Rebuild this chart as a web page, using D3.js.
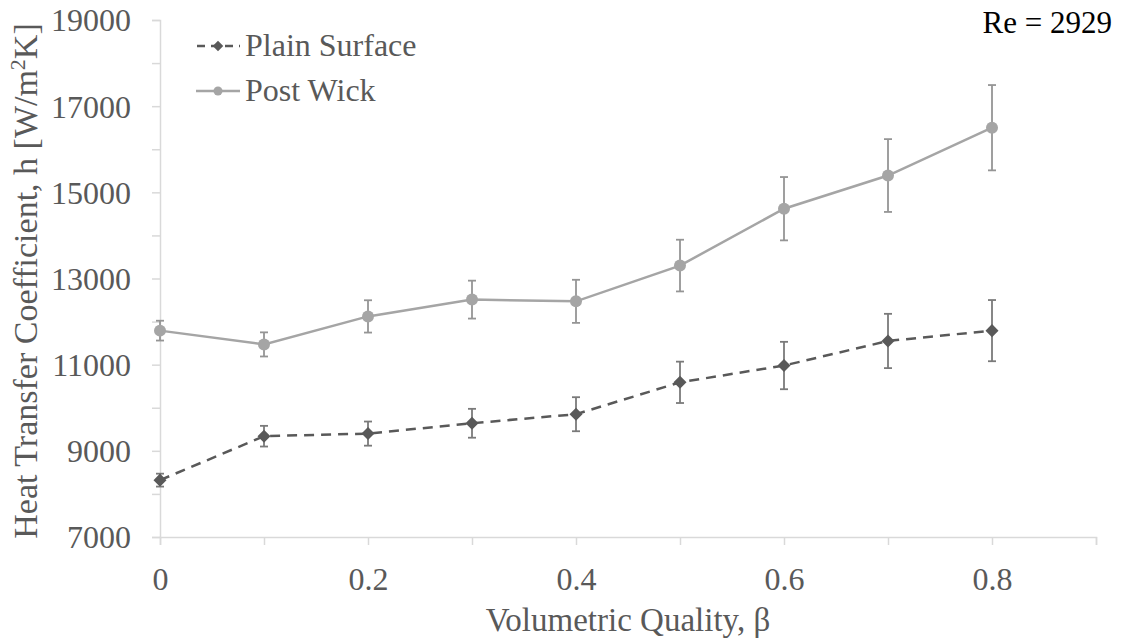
<!DOCTYPE html>
<html>
<head>
<meta charset="utf-8">
<script src="https://cdn.jsdelivr.net/npm/d3@7"></script>
<style>
  body { margin: 0; background: #fff; }
  svg { display: block; }
  svg text { font-family: "Liberation Serif", "Times New Roman", Times, serif !important; }
</style>
</head>
<body>
<svg id="chart" width="1125" height="641"></svg>
<script>
// ---- data ----
const beta = [0, 0.1, 0.2, 0.3, 0.4, 0.5, 0.6, 0.7, 0.8];
const plainSurface = [8320, 9340, 9400, 9640, 9850, 10590, 10980, 11550, 11790];
const plainErr = [150, 240, 280, 335, 395, 480, 550, 630, 710];
const postWick = [11790, 11470, 12120, 12510, 12470, 13300, 14620, 15390, 16500];
const postErr = [230, 280, 375, 440, 500, 600, 735, 845, 990];
const yTickLabels = [7000, 9000, 11000, 13000, 15000, 17000, 19000];
const xTickLabels = [0, 0.2, 0.4, 0.6, 0.8];
const seriesNames = ["Plain Surface", "Post Wick"];

// ---- layout ----
const FONT = "'Liberation Serif', 'Times New Roman', serif";
const svg = d3.select("#chart").attr("font-family", FONT);
const x = d3.scaleLinear().domain([0, 0.9]).range([160, 1096]);
const y = d3.scaleLinear().domain([7000, 19000]).range([537, 20]);
const textColor = "#595959";
const axisColor = "#d9d9d9";

// axes
const yAxis = d3.axisLeft(y).tickValues(d3.range(7000, 19001, 1000))
  .tickSize(8).tickFormat(d => yTickLabels.includes(d) ? d : "");
const gy = svg.append("g").attr("transform", "translate(160,0)").call(yAxis).attr("font-family", FONT);
gy.select(".domain").attr("stroke", axisColor).attr("stroke-width", 1.5);
gy.selectAll(".tick line").attr("stroke", axisColor).attr("stroke-width", 1.5);
gy.selectAll(".tick text").attr("fill", textColor).attr("font-size", 32)
  .attr("x", -29).attr("dy", "0.34em");

const xAxis = d3.axisBottom(x).tickValues(d3.range(0, 10).map(i => i / 10))
  .tickSize(8).tickFormat(d => xTickLabels.some(v => Math.abs(v - d) < 1e-9) ? d3.format("")(+d.toFixed(1)) : "");
const gx = svg.append("g").attr("transform", "translate(0,537)").call(xAxis).attr("font-family", FONT);
gx.select(".domain").attr("stroke", axisColor).attr("stroke-width", 1.5);
gx.selectAll(".tick line").attr("stroke", axisColor).attr("stroke-width", 1.5);
gx.selectAll(".tick text").attr("fill", textColor).attr("font-size", 32)
  .attr("y", 30).attr("dy", "0.71em");

// axis titles
svg.append("text").attr("x", 628).attr("y", 631).attr("text-anchor", "middle")
  .attr("fill", textColor).attr("font-size", 33).text("Volumetric Quality, β");

const yt = svg.append("text").attr("transform", "translate(37,281) rotate(-90)")
  .attr("text-anchor", "middle").attr("fill", textColor).attr("font-size", 34);
yt.append("tspan").text("Heat Transfer Coefficient, h [W/m");
yt.append("tspan").attr("font-size", 22).attr("dy", -12).text("2");
yt.append("tspan").attr("dy", 12).text("K]");

// Re label
svg.append("text").attr("x", 1112).attr("y", 33).attr("text-anchor", "end")
  .attr("fill", "#000").attr("font-size", 31).text("Re = 2929");

// series
const plainData = beta.map((b, i) => ({ b, v: plainSurface[i], e: plainErr[i] }));
const postData = beta.map((b, i) => ({ b, v: postWick[i], e: postErr[i] }));
const line = d3.line().x(d => x(d.b)).y(d => y(d.v));

function errorBars(data, color) {
  const g = svg.append("g").attr("stroke", color).attr("stroke-width", 1.8);
  data.forEach(d => {
    g.append("line").attr("x1", x(d.b)).attr("x2", x(d.b)).attr("y1", y(d.v + d.e)).attr("y2", y(d.v - d.e));
    g.append("line").attr("x1", x(d.b) - 4).attr("x2", x(d.b) + 4).attr("y1", y(d.v + d.e)).attr("y2", y(d.v + d.e));
    g.append("line").attr("x1", x(d.b) - 4).attr("x2", x(d.b) + 4).attr("y1", y(d.v - d.e)).attr("y2", y(d.v - d.e));
  });
}

const postColor = "#a5a5a5";
const plainColor = "#595959";

// Post Wick
svg.append("path").datum(postData).attr("d", line).attr("fill", "none")
  .attr("stroke", postColor).attr("stroke-width", 2.5);
errorBars(postData, "#959595");
svg.append("g").selectAll("circle").data(postData).join("circle")
  .attr("cx", d => x(d.b)).attr("cy", d => y(d.v)).attr("r", 6).attr("fill", postColor);

// Plain Surface
svg.append("path").datum(plainData).attr("d", line).attr("fill", "none")
  .attr("stroke", plainColor).attr("stroke-width", 2.5).attr("stroke-dasharray", "10,7");
errorBars(plainData, "#7a7a7a");
svg.append("g").selectAll("path").data(plainData).join("path")
  .attr("transform", d => `translate(${x(d.b)},${y(d.v)}) rotate(45)`)
  .attr("d", d3.symbol().type(d3.symbolSquare).size(85)).attr("fill", plainColor);

// legend
const lg = svg.append("g");
lg.append("line").attr("x1", 196).attr("x2", 240).attr("y1", 46).attr("y2", 46)
  .attr("stroke", plainColor).attr("stroke-width", 2.5).attr("stroke-dasharray", "8,6").attr("stroke-dashoffset", -1);
lg.append("path").attr("transform", "translate(218,46) rotate(45)")
  .attr("d", d3.symbol().type(d3.symbolSquare).size(55)).attr("fill", plainColor);
lg.append("text").attr("x", 245).attr("y", 56).attr("fill", textColor).attr("font-size", 32).text(seriesNames[0]);
lg.append("line").attr("x1", 196).attr("x2", 240).attr("y1", 91).attr("y2", 91)
  .attr("stroke", postColor).attr("stroke-width", 2.5);
lg.append("circle").attr("cx", 218).attr("cy", 91).attr("r", 4.5).attr("fill", postColor);
lg.append("text").attr("x", 245).attr("y", 101).attr("fill", textColor).attr("font-size", 32).text(seriesNames[1]);
</script>
</body>
</html>
